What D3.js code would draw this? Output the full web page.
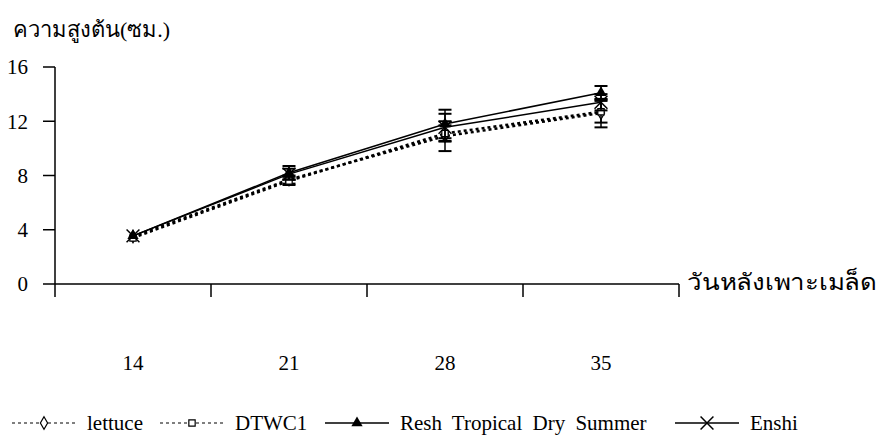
<!DOCTYPE html>
<html>
<head>
<meta charset="utf-8">
<script src="https://cdn.jsdelivr.net/npm/d3@7"></script>
<style>
  body { margin: 0; background: #fff; }
  svg { display: block; font-family: "Liberation Serif", "Times New Roman", serif; }
</style>
</head>
<body>
<svg id="chart" width="885" height="435"></svg>
<script>
const days = ['14', '21', '28', '35'];
const yTicks = [0, 4, 8, 12, 16];

const seriesNames = ['lettuce', 'DTWC1', 'Resh Tropical Dry Summer', 'Enshi'];
const lettuce = [3.5, 7.7, 10.9, 12.6];
const dtwc1 = [3.4, 7.6, 11.1, 12.7];
const resh = [3.55, 8.2, 11.8, 14.1];
const enshi = [3.55, 8.1, 11.55, 13.4];

// +/- error for each point
const lettuceErr = [0, 0.3, 1.1, 1.05];
const dtwc1Err = [0, 0.3, 0.6, 0.8];
const reshErr = [0, 0.5, 1.05, 0.5];
const enshiErr = [0, 0.4, 1.0, 0.6];

const series = [
  { name: seriesNames[0], values: lettuce, err: lettuceErr, dash: '3,3', marker: 'diamond' },
  { name: seriesNames[1], values: dtwc1, err: dtwc1Err, dash: '3,3', marker: 'square' },
  { name: seriesNames[2], values: resh, err: reshErr, dash: null, marker: 'triangle' },
  { name: seriesNames[3], values: enshi, err: enshiErr, dash: null, marker: 'cross' },
];

const margin = { top: 67, left: 55 };
const width = 624;
const height = 217;

const svg = d3.select('#chart');
const g = svg.append('g')
  .attr('transform', `translate(${margin.left}, ${margin.top})`);

const x = d3.scaleBand().domain(days).range([0, width]);
const y = d3.scaleLinear().domain([0, 16]).range([height, 0]);
const cx = d => x(d) + x.bandwidth() / 2;

// y axis
g.append('line')
  .attr('x1', 0).attr('x2', 0)
  .attr('y1', 0).attr('y2', height)
  .attr('stroke', '#000').attr('stroke-width', 1.5);

g.selectAll('.ytick')
  .data(yTicks)
  .enter().append('line')
  .attr('x1', -12).attr('x2', 0)
  .attr('y1', d => y(d)).attr('y2', d => y(d))
  .attr('stroke', '#000').attr('stroke-width', 1.5);

g.selectAll('.ylabel')
  .data(yTicks)
  .enter().append('text')
  .attr('x', -27)
  .attr('y', d => y(d))
  .attr('dy', '0.35em')
  .attr('text-anchor', 'end')
  .attr('font-size', 21)
  .text(d => d);

// x axis
g.append('line')
  .attr('x1', 0).attr('x2', width)
  .attr('y1', height).attr('y2', height)
  .attr('stroke', '#000').attr('stroke-width', 1.5);

const xBounds = days.map(d => x(d)).concat([width]);
g.selectAll('.xtick')
  .data(xBounds)
  .enter().append('line')
  .attr('x1', d => d).attr('x2', d => d)
  .attr('y1', height).attr('y2', height + 13)
  .attr('stroke', '#000').attr('stroke-width', 1.5);

g.selectAll('.xlabel')
  .data(days)
  .enter().append('text')
  .attr('x', d => cx(d))
  .attr('y', height + 86)
  .attr('text-anchor', 'middle')
  .attr('font-size', 21)
  .text(d => d);

// axis titles
svg.append('text')
  .attr('x', 13).attr('y', 37)
  .attr('font-size', 22)
  .attr('textLength', 157)
  .attr('lengthAdjust', 'spacingAndGlyphs')
  .text('ความสูงต้น(ซม.)');

svg.append('text')
  .attr('x', 687).attr('y', height + margin.top + 6)
  .attr('font-size', 23)
  .attr('textLength', 190)
  .attr('lengthAdjust', 'spacingAndGlyphs')
  .text('วันหลังเพาะเมล็ด');

const markerPath = {
  diamond: d3.symbol().type(d3.symbolDiamond).size(45),
  square: d3.symbol().type(d3.symbolSquare).size(40),
  triangle: d3.symbol().type(d3.symbolTriangle).size(55),
  cross: d3.symbol().type(d3.symbolTimes).size(110),
};

function drawMarker(sel, type) {
  const p = sel.append('path').attr('d', markerPath[type]());
  if (type === 'triangle') {
    p.attr('fill', '#000');
  } else if (type === 'cross') {
    p.attr('fill', 'none').attr('stroke', '#000').attr('stroke-width', 1.5);
  } else {
    p.attr('fill', '#fff').attr('stroke', '#000').attr('stroke-width', 1.2);
  }
}

const line = d3.line()
  .x((d, i) => cx(days[i]))
  .y(d => y(d));

series.forEach((s) => {
  const sg = g.append('g');

  sg.append('path')
    .datum(s.values)
    .attr('d', line)
    .attr('fill', 'none')
    .attr('stroke', '#000')
    .attr('stroke-width', s.dash ? 2.5 : 1.5)
    .attr('stroke-dasharray', s.dash);

  // error bars
  s.values.forEach((v, i) => {
    if (!s.err[i]) return;
    const px = cx(days[i]);
    const top = y(v + s.err[i]);
    const bot = y(v - s.err[i]);
    sg.append('line')
      .attr('x1', px).attr('x2', px)
      .attr('y1', top).attr('y2', bot)
      .attr('stroke', '#000').attr('stroke-width', 1.5);
    [top, bot].forEach((cy) => {
      sg.append('line')
        .attr('x1', px - 6.5).attr('x2', px + 6.5)
        .attr('y1', cy).attr('y2', cy)
        .attr('stroke', '#000').attr('stroke-width', 2);
    });
  });

  s.values.forEach((v, i) => {
    const m = sg.append('g')
      .attr('transform', `translate(${cx(days[i])}, ${y(v)})`);
    drawMarker(m, s.marker);
  });
});

// legend
const legendX = [12, 160, 325, 675];
const legendText = [87, 235, 400, 750];
const legendY = 430;
series.forEach((s, i) => {
  const lg = svg.append('g');
  lg.append('line')
    .attr('x1', legendX[i]).attr('x2', legendX[i] + 64)
    .attr('y1', legendY - 7).attr('y2', legendY - 7)
    .attr('stroke', '#000')
    .attr('stroke-width', s.dash ? 1.2 : 1.5)
    .attr('stroke-dasharray', s.dash);
  const m = lg.append('g').attr('transform', `translate(${legendX[i] + 32}, ${legendY - 7})`);
  drawMarker(m, s.marker);
  lg.append('text')
    .attr('x', legendText[i]).attr('y', legendY)
    .attr('font-size', 21)
    .attr('word-spacing', 5)
    .text(s.name);
});
</script>
</body>
</html>
